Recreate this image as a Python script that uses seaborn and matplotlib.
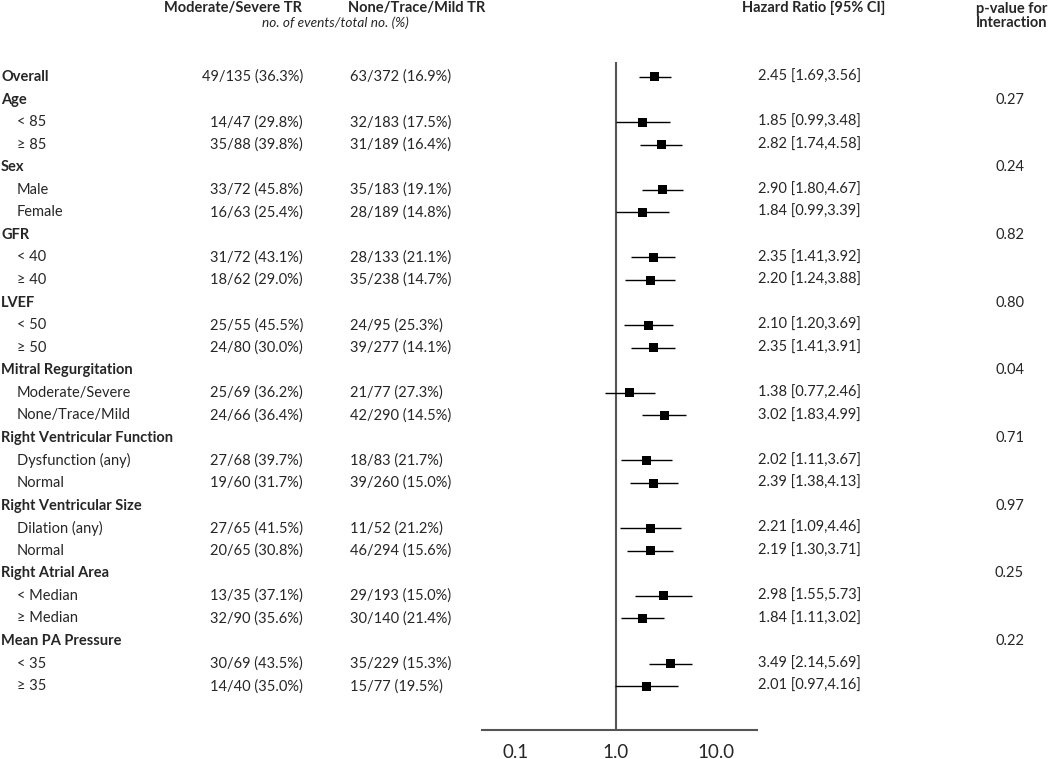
import numpy as np
import pandas as pd
import matplotlib
matplotlib.use("Agg")
import matplotlib.pyplot as plt
import matplotlib.transforms as mtransforms
import seaborn as sns

# rows of the forest plot, top to bottom
labels = ["Overall", "Age", "< 85", "\u2265 85", "Sex", "Male", "Female",
          "GFR", "< 40", "\u2265 40", "LVEF", "< 50", "\u2265 50",
          "Mitral Regurgitation", "Moderate/Severe", "None/Trace/Mild",
          "Right Ventricular Function", "Dysfunction (any)", "Normal",
          "Right Ventricular Size", "Dilation (any)", "Normal",
          "Right Atrial Area", "< Median", "\u2265 Median",
          "Mean PA Pressure", "< 35", "\u2265 35"]
is_group = [1, 1, 0, 0, 1, 0, 0, 1, 0, 0, 1, 0, 0, 1, 0, 0,
            1, 0, 0, 1, 0, 0, 1, 0, 0, 1, 0, 0]
mod_sev = ["49/135 (36.3%)", "", "14/47 (29.8%)", "35/88 (39.8%)", "", "33/72 (45.8%)", "16/63 (25.4%)",
           "", "31/72 (43.1%)", "18/62 (29.0%)", "", "25/55 (45.5%)", "24/80 (30.0%)",
           "", "25/69 (36.2%)", "24/66 (36.4%)", "", "27/68 (39.7%)", "19/60 (31.7%)",
           "", "27/65 (41.5%)", "20/65 (30.8%)", "", "13/35 (37.1%)", "32/90 (35.6%)",
           "", "30/69 (43.5%)", "14/40 (35.0%)"]
none_mild = ["63/372 (16.9%)", "", "32/183 (17.5%)", "31/189 (16.4%)", "", "35/183 (19.1%)", "28/189 (14.8%)",
             "", "28/133 (21.1%)", "35/238 (14.7%)", "", "24/95 (25.3%)", "39/277 (14.1%)",
             "", "21/77 (27.3%)", "42/290 (14.5%)", "", "18/83 (21.7%)", "39/260 (15.0%)",
             "", "11/52 (21.2%)", "46/294 (15.6%)", "", "29/193 (15.0%)", "30/140 (21.4%)",
             "", "35/229 (15.3%)", "15/77 (19.5%)"]
hr = [2.45, None, 1.85, 2.82, None, 2.90, 1.84, None, 2.35, 2.20, None, 2.10, 2.35,
      None, 1.38, 3.02, None, 2.02, 2.39, None, 2.21, 2.19, None, 2.98, 1.84, None, 3.49, 2.01]
lo = [1.69, None, 0.99, 1.74, None, 1.80, 0.99, None, 1.41, 1.24, None, 1.20, 1.41,
      None, 0.77, 1.83, None, 1.11, 1.38, None, 1.09, 1.30, None, 1.55, 1.11, None, 2.14, 0.97]
hi = [3.56, None, 3.48, 4.58, None, 4.67, 3.39, None, 3.92, 3.88, None, 3.69, 3.91,
      None, 2.46, 4.99, None, 3.67, 4.13, None, 4.46, 3.71, None, 5.73, 3.02, None, 5.69, 4.16]
pvals = ["", "0.27", "", "", "0.24", "", "", "0.82", "", "", "0.80", "", "",
         "0.04", "", "", "0.71", "", "", "0.97", "", "", "0.25", "", "", "0.22", "", ""]
ticks = [0.1, 1.0, 10.0]
tick_labels = ["0.1", "1.0", "10.0"]

df = pd.DataFrame({"label": labels, "group": is_group, "mod": mod_sev, "none": none_mild,
                   "hr": hr, "lo": lo, "hi": hi, "p": pvals})
df["row"] = np.arange(len(df))

sns.set_style("white")
plt.rcParams["font.family"] = ["Lato", "DejaVu Sans"]

W, H = 1050, 759
fig = plt.figure(figsize=(W / 100, H / 100), dpi=100)
ax = fig.add_axes([482 / W, 1 - 730 / H, 275 / W, (730 - 62) / H])

est = df.dropna(subset=["hr"])
ax.hlines(est["row"], est["lo"], est["hi"], color="black", lw=1, zorder=2)
sns.scatterplot(data=est, x="hr", y="row", marker="s", s=42, color="black",
                edgecolor="none", ax=ax, zorder=3, legend=False)
ax.axvline(1, color="#555555", lw=1.5, zorder=1)

ax.set_xscale("log")
ax.set_xlim(10 ** -1.34, 10 ** 1.41)
ax.set_ylim(27 + 44 / 22.6, -15 / 22.6)
ax.set_xticks(ticks)
ax.set_xticklabels(tick_labels)
ax.minorticks_off()
ax.set_yticks([])
ax.set_xlabel("")
ax.set_ylabel("")
for s in ["top", "right", "left"]:
    ax.spines[s].set_visible(False)
ax.spines["bottom"].set_color("#555555")
ax.spines["bottom"].set_linewidth(1.5)
ax.tick_params(axis="x", direction="out", length=3, width=1, color="#555555",
               labelsize=13.5, pad=7)

# text columns
tr = mtransforms.blended_transform_factory(fig.transFigure, ax.transData)
fs = 10.5
for _, r in df.iterrows():
    if r["group"]:
        ax.text(1 / W, r["row"], r["label"], transform=tr, ha="left", va="center",
                fontsize=fs, fontweight="bold")
    else:
        ax.text(17 / W, r["row"], r["label"], transform=tr, ha="left", va="center", fontsize=fs)
    if r["mod"]:
        ax.text(303 / W, r["row"], r["mod"], transform=tr, ha="right", va="center", fontsize=fs)
        ax.text(350 / W, r["row"], r["none"], transform=tr, ha="left", va="center", fontsize=fs)
    if pd.notna(r["hr"]):
        ax.text(758 / W, r["row"], f"{r['hr']:.2f} [{r['lo']:.2f},{r['hi']:.2f}]",
                transform=tr, ha="left", va="center", fontsize=fs)
    if r["p"]:
        ax.text(1024 / W, r["row"], r["p"], transform=tr, ha="right", va="center", fontsize=fs)

# headers
fig.text(233 / W, 1 - 8 / H, "Moderate/Severe TR", ha="center", va="center",
         fontsize=fs, fontweight="bold")
fig.text(348 / W, 1 - 8 / H, "None/Trace/Mild TR", ha="left", va="center",
         fontsize=fs, fontweight="bold")
fig.text(335 / W, 1 - 23 / H, "no. of events/total no. (%)", ha="center", va="center",
         fontsize=9.8, fontstyle="italic")
fig.text(742 / W, 1 - 8 / H, "Hazard Ratio [95% CI]", ha="left", va="center",
         fontsize=fs, fontweight="bold")
fig.text(1012 / W, 1 - 16 / H, "p-value for\nInteraction", ha="center", va="center",
         fontsize=fs, fontweight="bold", linespacing=1.05)

fig.savefig("out.png", dpi=100)
